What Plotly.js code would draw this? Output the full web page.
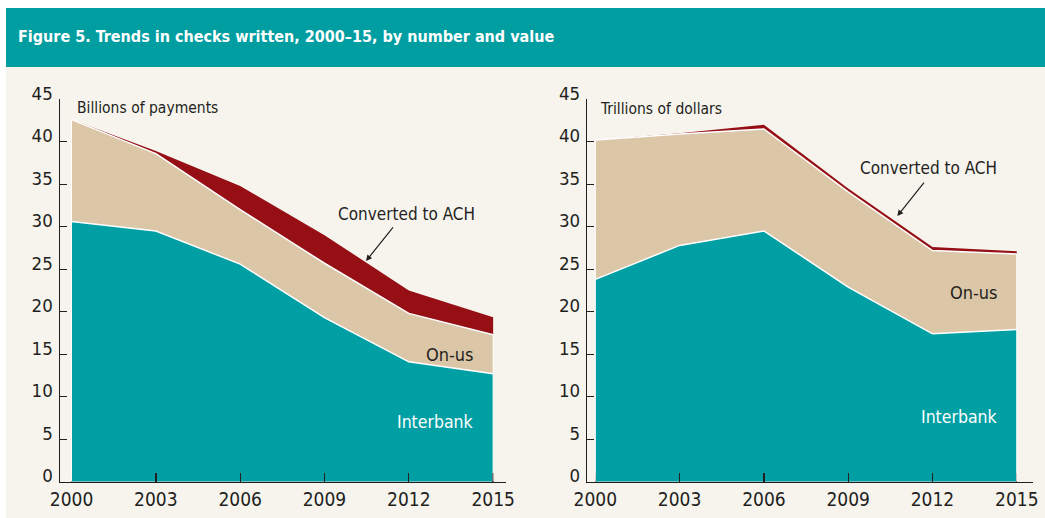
<!DOCTYPE html>
<html>
<head>
<meta charset="utf-8">
<script src="https://cdn.plot.ly/plotly-3.0.1.min.js"></script>
<style>
  html, body { margin: 0; padding: 0; background: #ffffff; }
  #chart { width: 1045px; height: 518px; }
</style>
</head>
<body>
<div id="chart"></div>
<script>
// ---- data ----
const years = [2000, 2003, 2006, 2009, 2012, 2015];
const yearLabels = ["2000", "2003", "2006", "2009", "2012", "2015"];
// Left panel: billions of payments
const numInterbank = [30.6, 29.5, 25.6, 19.3, 14.1, 12.7];
const numOnUs      = [12.0, 9.1, 6.4, 6.4, 5.7, 4.6];
const numAch       = [0.0, 0.3, 2.8, 3.3, 2.7, 2.05];
// Right panel: trillions of dollars
const valInterbank = [23.8, 27.8, 29.5, 22.9, 17.4, 17.9];
const valOnUs      = [16.4, 13.1, 12.0, 11.2, 9.8, 8.9];
const valAch       = [0.0, 0.1, 0.5, 0.4, 0.4, 0.3];
const yTicks = [0, 5, 10, 15, 20, 25, 30, 35, 40, 45];

// ---- style ----
const W = 1045, H = 518;
const FONT = "DejaVu Sans Condensed, Liberation Sans Narrow, sans-serif";
const INK = "#231f20";
const TEAL = "#009fa3";
const BEIGE = "#dbc6a7";
const RED = "#960f14";
const BG = "#f7f4ee";
const px = v => v / W;
const py = v => (H - v) / H;

function area(x, y, fill, xa, ya, group, lw) {
  return {
    type: "scatter", mode: "lines", x: x, y: y,
    xaxis: xa, yaxis: ya, stackgroup: group,
    fillcolor: fill,
    line: { color: lw > 0 ? "#ffffff" : fill, width: lw, shape: "linear" },
    hoverinfo: "skip", showlegend: false
  };
}

const data = [
  area(years, numInterbank, TEAL, "x", "y", "a", 1.5),
  area(years, numOnUs, BEIGE, "x", "y", "a", 1.5),
  area(years, numAch, RED, "x", "y", "a", 0),
  area(years, valInterbank, TEAL, "x2", "y2", "b", 1.5),
  area(years, valOnUs, BEIGE, "x2", "y2", "b", 1.5),
  area(years, valAch, RED, "x2", "y2", "b", 0)
];

function xAxis(domain, range, anchor) {
  return {
    domain: domain, range: range, anchor: anchor,
    tickmode: "array", tickvals: years, ticktext: yearLabels,
    ticks: "inside", ticklen: 9, tickwidth: 1.3, tickcolor: INK,
    showline: true, linecolor: INK, linewidth: 1.5,
    showgrid: false, zeroline: false,
    tickfont: { family: FONT, size: 19, color: INK },
    ticklabelstandoff: 0,
    fixedrange: true
  };
}
function yAxis(anchor) {
  return {
    domain: [py(481.7), py(99.2)], range: [0, 45], anchor: anchor,
    tickmode: "array", tickvals: yTicks, ticktext: yTicks.map(String),
    ticks: "inside", ticklen: 7, tickwidth: 1.3, tickcolor: INK,
    showline: true, linecolor: INK, linewidth: 1.5,
    showgrid: false, zeroline: false,
    tickfont: { family: FONT, size: 18.5, color: INK },
    ticklabelshift: -6, ticklabelstandoff: 2,
    fixedrange: true
  };
}

// thin white edges at both ends of each stacked panel (from the data)
function edges(xref, yref, totals) {
  const first = 0, last = years.length - 1;
  return [first, last].map(i => ({
    type: "line", xref: xref, yref: yref, layer: "above",
    x0: years[i], x1: years[i], y0: 0, y1: totals[i],
    line: { color: "#ffffff", width: 1 }
  }));
}
const numStackBelowAch = numInterbank.map((v, i) => v + numOnUs[i]);
const valStackBelowAch = valInterbank.map((v, i) => v + valOnUs[i]);

function label(text, x, y, xanchor, size, color, bold) {
  return {
    xref: "paper", yref: "paper", x: px(x), y: py(y),
    xanchor: xanchor, yanchor: "middle", showarrow: false,
    text: bold ? "<b>" + text + "</b>" : text,
    font: { family: FONT, size: size, color: color }
  };
}
function arrow(hx, hy, tx, ty) {
  return {
    xref: "paper", yref: "paper", x: px(hx), y: py(hy),
    ax: tx - hx, ay: ty - hy, text: " ", showarrow: true,
    arrowhead: 2, arrowsize: 1, arrowwidth: 1.2, arrowcolor: INK,
    font: { size: 2 }
  };
}

const layout = {
  width: W, height: H,
  margin: { l: 0, r: 0, t: 0, b: 0, pad: 0 },
  paper_bgcolor: "#ffffff",
  plot_bgcolor: "rgba(0,0,0,0)",
  showlegend: false,
  hovermode: false,
  xaxis: xAxis([px(60), px(505.5)], [1999.59, 2015.44], "y"),
  yaxis: yAxis("x"),
  xaxis2: xAxis([px(587.3), px(1032.5)], [1999.715, 2015.56], "y2"),
  yaxis2: yAxis("x2"),
  shapes: [
    { type: "rect", xref: "paper", yref: "paper", layer: "below",
      x0: px(6), x1: 1, y0: 0, y1: py(67), fillcolor: BG, line: { width: 0 } },
    { type: "rect", xref: "paper", yref: "paper", layer: "below",
      x0: px(6), x1: 1, y0: py(67), y1: py(8), fillcolor: "#009ea1", line: { width: 0 } }
  ].concat(edges("x", "y", numStackBelowAch), edges("x2", "y2", valStackBelowAch)),
  annotations: [
    label("Figure 5. Trends in checks written, 2000–15, by number and value", 16, 36.5, "left", 16, "#ffffff", true),
    label("Billions of payments", 75, 108, "left", 15.5, INK, false),
    label("Trillions of dollars", 597.5, 109, "left", 15.5, INK, false),
    label("Converted to ACH", 477, 213.5, "right", 17, INK, false),
    label("Converted to ACH", 998.5, 168, "right", 17, INK, false),
    label("On-us", 476, 354, "right", 18, INK, false),
    label("On-us", 1000, 292.5, "right", 18, INK, false),
    label("Interbank", 476, 421.5, "right", 17.5, "#ffffff", false),
    label("Interbank", 1000, 417, "right", 17.5, "#ffffff", false),
    arrow(366, 261, 395, 225),
    arrow(897.3, 216, 926, 180)
  ]
};

Plotly.newPlot("chart", data, layout, { displayModeBar: false, staticPlot: true });
</script>
</body>
</html>
